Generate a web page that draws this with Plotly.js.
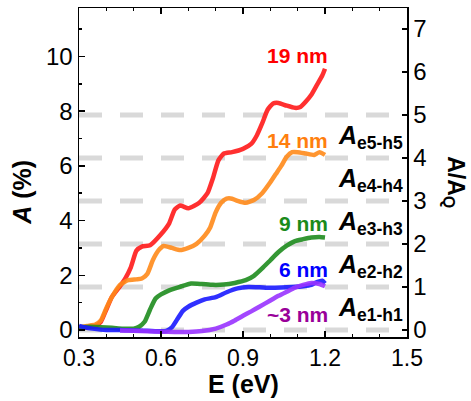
<!DOCTYPE html>
<html>
<head>
<meta charset="utf-8">
<script src="https://cdn.plot.ly/plotly-3.0.1.min.js"></script>
<style>html,body{margin:0;padding:0;background:#fff;}#chart{width:471px;height:401px;}</style>
</head>
<body>
<div id="chart"></div>
<script>
// ---- data ----
var E19 = [0.30,0.33,0.36,0.38,0.40,0.42,0.45,0.47,0.49,0.51,0.53,0.56,0.60,0.63,0.65,0.67,0.70,0.74,0.77,0.79,0.81,0.83,0.86,0.90,0.93,0.95,0.97,0.99,1.01,1.03,1.06,1.09,1.11,1.13,1.15,1.17,1.19,1.20];
var A19 = [0.05,0.10,0.15,0.30,0.75,1.20,1.60,1.90,2.30,2.90,3.05,3.10,3.50,3.90,4.40,4.55,4.45,4.65,5.00,5.55,6.20,6.45,6.50,6.62,6.80,7.10,7.55,8.05,8.28,8.30,8.20,8.12,8.15,8.35,8.60,8.95,9.30,9.55];

var E14 = [0.30,0.33,0.36,0.38,0.40,0.42,0.45,0.48,0.51,0.53,0.55,0.57,0.59,0.61,0.64,0.67,0.70,0.73,0.76,0.78,0.80,0.82,0.84,0.86,0.88,0.91,0.94,0.97,1.00,1.02,1.04,1.06,1.08,1.10,1.13,1.16,1.18,1.20];
var A14 = [0.10,0.15,0.20,0.35,0.80,1.20,1.65,1.82,1.85,1.88,2.05,2.55,2.90,3.07,3.00,2.92,3.00,3.15,3.45,3.75,4.30,4.65,4.80,4.80,4.72,4.65,4.75,5.00,5.40,5.70,6.00,6.33,6.50,6.50,6.45,6.40,6.50,6.40];

var E9 = [0.30,0.34,0.38,0.42,0.46,0.50,0.52,0.54,0.56,0.58,0.60,0.63,0.67,0.71,0.75,0.79,0.83,0.87,0.91,0.94,0.97,1.00,1.03,1.06,1.09,1.12,1.15,1.18,1.20];
var A9 = [0.10,0.12,0.10,0.08,0.05,0.05,0.12,0.30,0.75,1.15,1.30,1.45,1.58,1.70,1.68,1.65,1.66,1.72,1.82,1.98,2.25,2.55,2.85,3.08,3.25,3.32,3.38,3.40,3.38];

var E6 = [0.30,0.32,0.35,0.40,0.45,0.50,0.55,0.60,0.62,0.64,0.66,0.68,0.70,0.73,0.76,0.80,0.84,0.88,0.92,0.96,1.00,1.04,1.08,1.12,1.15,1.17,1.19,1.20];
var A6 = [0.15,0.10,0.05,0.00,0.00,-0.02,-0.03,-0.05,-0.03,0.10,0.40,0.70,0.85,1.00,1.12,1.20,1.38,1.52,1.57,1.56,1.54,1.55,1.57,1.60,1.65,1.75,1.80,1.70];

var E3 = [0.45,0.50,0.55,0.60,0.65,0.70,0.75,0.80,0.84,0.87,0.90,0.93,0.96,1.00,1.03,1.06,1.09,1.12,1.15,1.18,1.20];
var A3 = [-0.02,-0.03,-0.05,-0.06,-0.07,-0.07,-0.04,0.05,0.20,0.35,0.52,0.68,0.85,1.08,1.25,1.40,1.55,1.65,1.72,1.68,1.60];

var sizeLabels = ["19 nm","14 nm","9 nm","6 nm","~3 nm"];
var sizeLabelY = [10.05, 6.91, 3.89, 2.21, 0.57];
var transLabels = ["e5-h5","e4-h4","e3-h3","e2-h2","e1-h1"];
var transLabelY = [4.5, 3.5, 2.5, 1.5, 0.5];
var quantumLevels = [0,1,2,3,4,5];

var lineColors = ["#ff1a1a","#ff8a1a","#1e8c1e","#1a1aff","#9933ff"];
var textColors = ["#ff0000","#ff7f0e","#1a8a1a","#0000ff","#990099"];

// ---- traces ----
var xs = [E19,E14,E9,E6,E3], ys = [A19,A14,A9,A6,A3];
var traces = [];
for (var i = 0; i < xs.length; i++) {
  traces.push({x: xs[i], y: ys[i], type: 'scatter', mode: 'lines',
    line: {color: lineColors[i], width: 4.5, shape: 'spline', smoothing: 0.5},
    opacity: 0.9, showlegend: false, hoverinfo: 'skip'});
}
// invisible trace to activate y2
traces.push({x: [0.3], y: [0], yaxis: 'y2', mode: 'markers', marker: {opacity: 0}, showlegend: false, hoverinfo: 'skip'});

var shapes = quantumLevels.map(function(v){
  return {type:'line', xref:'paper', x0:0, x1:1, yref:'y2', y0:v, y1:v, layer:'below',
          line:{color:'#d9d9d9', width:5, dash:'23px,18px'}};
});

var FF = 'Liberation Sans, Arial, sans-serif';
var annotations = [];
for (var j = 0; j < sizeLabels.length; j++) {
  annotations.push({xref:'x', yref:'y', x:1.22, y:sizeLabelY[j], xanchor:'right', yanchor:'middle',
    text:'<b>'+sizeLabels[j]+'</b>', showarrow:false,
    font:{family:FF, size:21, color:textColors[j]}});
}
for (var k = 0; k < transLabels.length; k++) {
  annotations.push({xref:'x', yref:'y2', x:1.493, y:transLabelY[k], xanchor:'right', yanchor:'middle',
    text:'<b><i>A</i><sub>'+transLabels[k]+'</sub></b>', showarrow:false,
    font:{family:FF, size:25, color:'#000'}});
}
annotations.push({xref:'paper', yref:'paper', x:0.5, y:-0.142, xanchor:'center', yanchor:'middle',
  text:'<b>E (eV)</b>', showarrow:false, font:{family:FF, size:25, color:'#000'}});
annotations.push({xref:'paper', yref:'paper', x:-0.172, y:0.44, xanchor:'center', yanchor:'middle', textangle:-90,
  text:'<b><i>A</i> (%)</b>', showarrow:false, font:{family:FF, size:25, color:'#000'}});
annotations.push({xref:'paper', yref:'paper', x:1.146, y:0.471, xanchor:'center', yanchor:'middle', textangle:90,
  text:'<b>A/A<sub>Q</sub></b>', showarrow:false, font:{family:FF, size:23, color:'#000'}});

var axisFont = {family:FF, size:24, color:'#000'};
var xFont = {family:FF, size:23, color:'#000'};
var layout = {
  width:471, height:401,
  margin:{l:79, r:64, t:8, b:64, pad:0},
  paper_bgcolor:'#fff', plot_bgcolor:'#fff',
  showlegend:false,
  xaxis:{range:[0.3,1.5], tick0:0.3, dtick:0.3, ticks:'inside', ticklen:6, tickwidth:1.5, tickcolor:'#000',
    minor:{dtick:0.1, ticks:'inside', ticklen:3, tickwidth:1.5, tickcolor:'#000'},
    showline:true, linecolor:'#000', linewidth:1.5, mirror:'ticks', showgrid:false, zeroline:false,
    tickfont:xFont, tickformat:'.1f'},
  yaxis:{range:[-0.256,11.77], tick0:0, dtick:2, ticks:'inside', ticklen:6, tickwidth:1.5, tickcolor:'#000',
    minor:{dtick:1, ticks:'inside', ticklen:3, tickwidth:1.5, tickcolor:'#000'},
    showline:true, linecolor:'#000', linewidth:1.5, showgrid:false, zeroline:false, tickfont:axisFont},
  yaxis2:{overlaying:'y', side:'right', range:[-0.163,7.49], tick0:0, dtick:1, ticks:'inside', ticklen:5,
    tickwidth:1.5, tickcolor:'#000', showline:true, linecolor:'#000', linewidth:1.5, showgrid:false,
    zeroline:false, tickfont:axisFont},
  shapes:shapes,
  annotations:annotations
};
Plotly.newPlot('chart', traces, layout, {staticPlot:true, displayModeBar:false});
</script>
</body>
</html>
